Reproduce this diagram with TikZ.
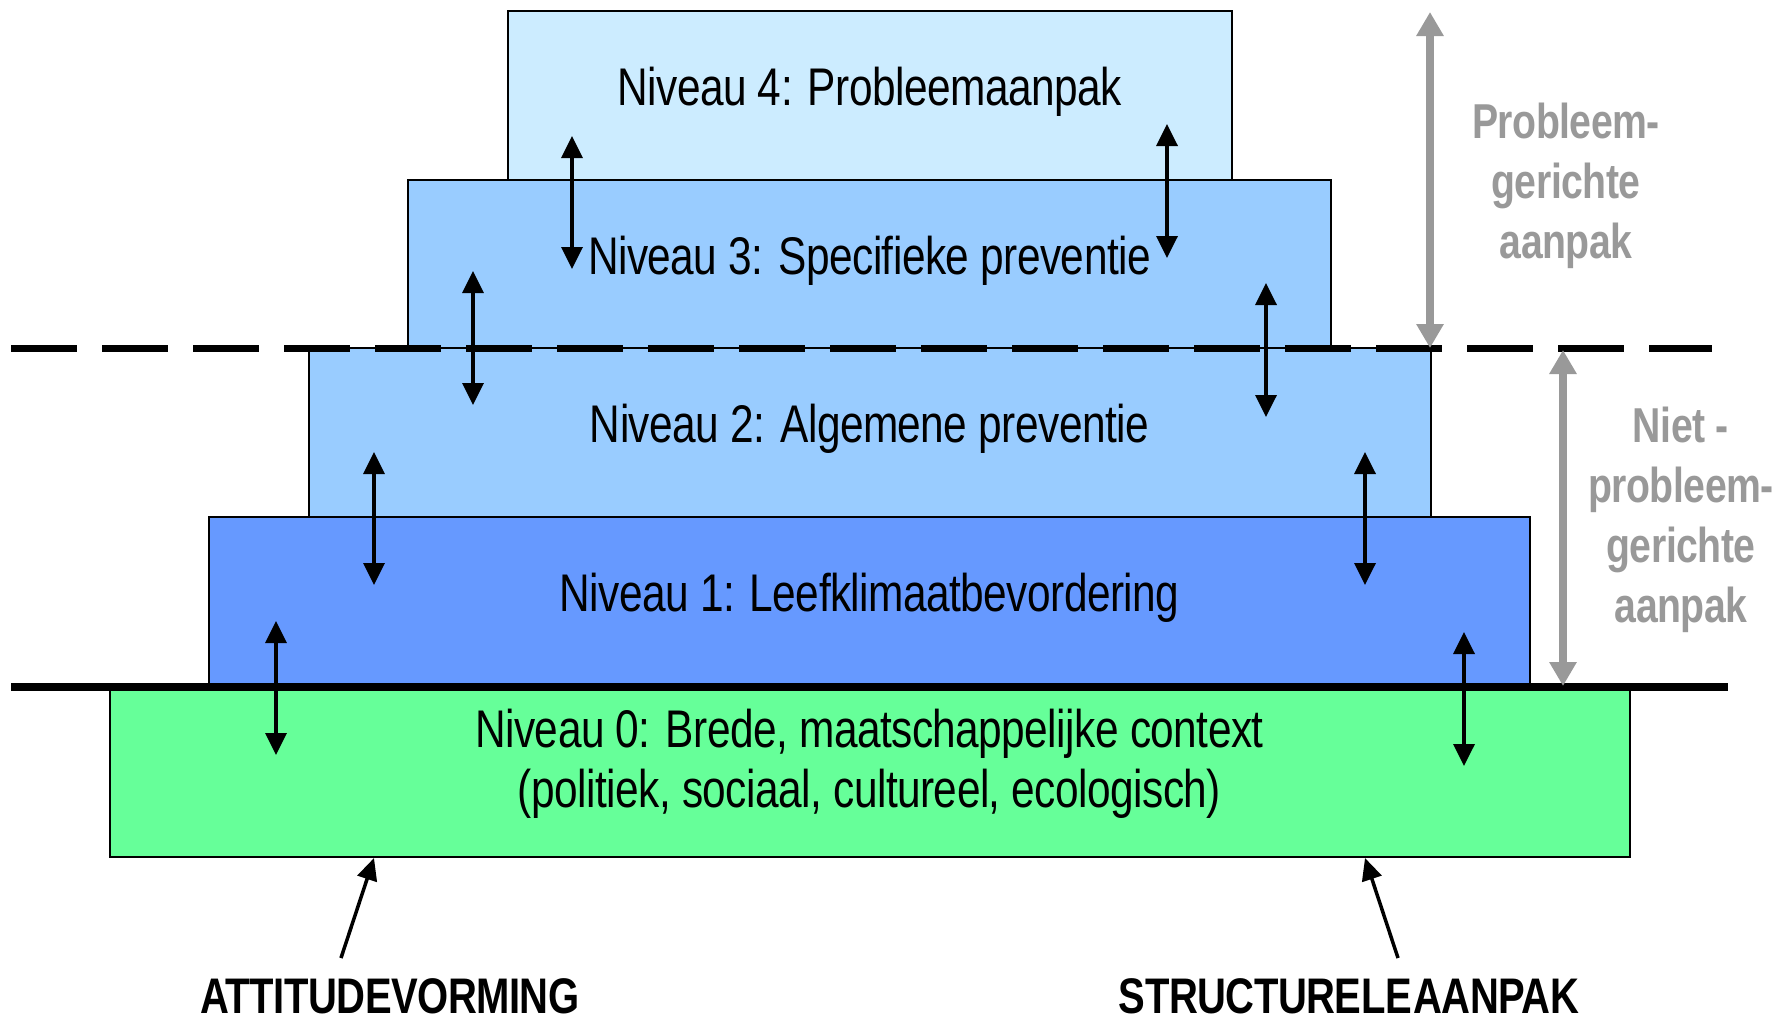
\documentclass[tikz,border=0pt]{standalone}
\usepackage{fontspec}
\setmainfont{Liberation Sans}
\newfontfamily\narrowsans[FakeStretch=0.8,LetterSpace=-1]{Liberation Sans}
\usetikzlibrary{arrows.meta}
\definecolor{lvlfour}{HTML}{CCECFF}
\definecolor{lvlthree}{HTML}{99CCFF}
\definecolor{lvlone}{HTML}{6699FF}
\definecolor{lvlzero}{HTML}{66FF99}
\definecolor{greyarrow}{HTML}{999999}
\begin{document}
\begin{tikzpicture}[x=1pt,y=-1pt,
  level/.style={draw,line width=2pt,minimum height=169pt,inner sep=0pt,align=center,text depth=18pt,
    font=\narrowsans\fontsize{53}{60}\selectfont},
  updown/.style={line width=3.5pt,{Triangle[length=22pt,width=21pt]}-{Triangle[length=22pt,width=21pt]}},
  greyrange/.style={draw=greyarrow,line width=8pt,{Triangle[length=24pt,width=26pt]}-{Triangle[length=24pt,width=26pt]}},
  greylabel/.style={text=greyarrow,align=center,font=\narrowsans\bfseries\fontsize{49}{60}\selectfont},
  approach/.style={anchor=base,inner sep=0pt,font=\narrowsans\bfseries\fontsize{50}{60}\selectfont},
  pointer/.style={line width=3.5pt,-{Triangle[length=22pt,width=20pt]}}]
 \useasboundingbox (0,0) rectangle (1789,1020);
 % the five levels
 \node[level,fill=lvlfour,minimum width=724pt] (n4) at (869.5,95.5) {Niveau 4: Probleemaanpak};
 \node[level,fill=lvlthree,minimum width=923pt,minimum height=168pt] (n3) at (869.5,264) {Niveau 3: Specifieke preventie};
 \node[level,fill=lvlthree,minimum width=1122pt] (n2) at (869.5,432.5) {Niveau 2: Algemene preventie};
 \node[level,fill=lvlone,minimum width=1321pt] (n1) at (869.5,601.5) {Niveau 1: Leefklimaatbevordering};
 \node[level,fill=lvlzero,minimum width=1520pt,text depth=29pt] (n0) at (869.5,772.5) {Niveau 0: Brede, maatschappelijke context\\(politiek, sociaal, cultureel, ecologisch)};
 % dividing lines
 \coordinate (dashL) at (11,348);
 \coordinate (dashR) at (1712,348);
 \draw[line width=7pt,dash pattern=on 66pt off 25pt] (dashL) -- (dashR);
 \coordinate (baseL) at (11,687);
 \coordinate (baseR) at (1728,687);
 \draw[line width=8pt] (baseL) -- (baseR);
 % arrows between the levels
 \foreach \x/\top/\bot [count=\i] in {572/136/269,473/271/405,374/452/585,276/621/755,
   1167/124/258,1266/283/417,1365/452/585,1464/632/766}
 {
  \coordinate (up\i) at (\x,\top);
  \coordinate (dn\i) at (\x,\bot);
  \draw[updown] (up\i) -- (dn\i);
 }
 % ranges on the right
 \coordinate (probtop) at (1430,12);
 \coordinate (probbot) at (1430,348);
 \draw[greyrange] (probtop) -- (probbot);
 \coordinate (niettop) at (1563,350);
 \coordinate (nietbot) at (1563,686);
 \draw[greyrange] (niettop) -- (nietbot);
 \node[greylabel] (probtext) at (1566,186) {Probleem-\\gerichte\\aanpak};
 \node[greylabel] (niettext) at (1681,520) {Niet -\\probleem-\\gerichte\\aanpak};
 % the two approaches
 \node[approach] (attitude) at (390,1013) {ATTITUDEVORMING};
 \node[approach] (structure) at (1349,1013) {STRUCTURELE\hspace{-9pt} AANPAK};
 \coordinate (atttail) at (341,958);
 \coordinate (atttip) at (374,858);
 \draw[pointer] (atttail) -- (atttip);
 \coordinate (strtail) at (1398,958);
 \coordinate (strtip) at (1365,858);
 \draw[pointer] (strtail) -- (strtip);
\end{tikzpicture}
\end{document}
